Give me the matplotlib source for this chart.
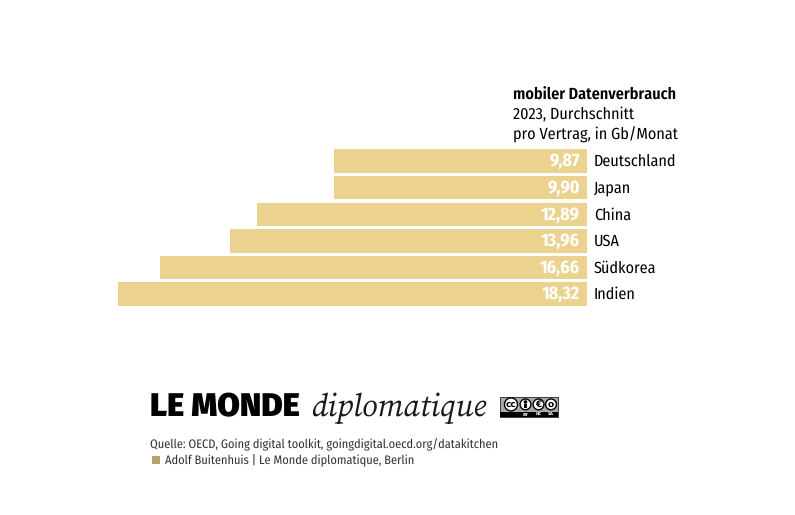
import matplotlib
matplotlib.use('Agg')
import matplotlib.pyplot as plt
from matplotlib import font_manager as fm
from matplotlib.patches import Rectangle, Circle
import numpy as np

countries = ['Deutschland', 'Japan', 'China', 'USA', 'Südkorea', 'Indien']
values = [9.87, 9.90, 12.89, 13.96, 16.66, 18.32]
value_labels = ['9,87', '9,90', '12,89', '13,96', '16,66', '18,32']

W, H = 795, 515
names = {f.name for f in fm.fontManager.ttflist}
narrow = [n for n in ['Fira Sans Condensed', 'Roboto'] if n in names][0]
heavy = [n for n in ['Fira Sans', 'Roboto'] if n in names][0]
serif = [n for n in ['Source Serif 4', 'Gelasio', 'Liberation Serif'] if n in names][0]

plt.rcParams['text.hinting'] = 'no_hinting'
plt.rcParams['text.hinting_factor'] = 1

fig = plt.figure(figsize=(W / 100, H / 100), dpi=100, facecolor='white')

# axes covers exactly the bar area, x runs right to left
ax = fig.add_axes([118 / W, 1 - 307.45 / H, (587 - 118) / W, (307.45 - 147.85) / H])
y = np.arange(len(countries))
ax.barh(y, values, height=0.883, color='#ebd38f', linewidth=0)
ax.set_xlim(18.32, 0)
ax.set_ylim(len(countries) - 0.5, -0.5)
ax.axis('off')

for i in y:
    ax.annotate(value_labels[i], (0, i), xytext=(-7, -5), textcoords='offset pixels',
                ha='right', va='baseline', color='white', fontsize=13,
                fontweight='bold', family=narrow)
    ax.annotate(countries[i], (0, i), xytext=(7, -5), textcoords='offset pixels',
                ha='left', va='baseline', color='black', fontsize=11.6, family=narrow)


def px_text(x, y, s, **kw):
    return fig.text(x / W, 1 - y / H, s, va='baseline', **kw)


px_text(513, 100, 'mobiler Datenverbrauch', fontsize=11.6, fontweight='semibold', family=narrow)
px_text(513, 119.3, '2023, Durchschnitt', fontsize=11.6, family=narrow)
px_text(513, 138.3, 'pro Vertrag, in Gb/Monat', fontsize=11.6, family=narrow)

# masthead
px_text(150.5, 416.7, 'LE MONDE', fontsize=23.6, fontweight='black', family=heavy, color='black')
px_text(311, 416.7, 'diplomatique', fontsize=22.8, style='italic', family=serif, color='#1a1a1a')

# source
px_text(150, 448.3, 'Quelle: OECD, Going digital toolkit, goingdigital.oecd.org/datakitchen',
        fontsize=8.9, family=narrow, color='#333333')
px_text(165, 464.3, 'Adolf Buitenhuis | Le Monde diplomatique, Berlin',
        fontsize=8.9, family=narrow, color='#333333')
fig.add_artist(Rectangle((151.5 / W, 1 - 464.3 / H), 8 / W, 8 / H, transform=fig.transFigure,
                         color='#b8a06e', linewidth=0))

# cc badge, pixel coordinates
ov = fig.add_axes([0, 0, 1, 1], facecolor='none')
ov.set_xlim(0, W)
ov.set_ylim(H, 0)
ov.axis('off')
ov.add_patch(Rectangle((500, 396.7), 58, 20.6, facecolor='#aaaaaa', edgecolor='black', linewidth=0.5))
ov.add_patch(Rectangle((500, 411.5), 58, 5.8, facecolor='black', linewidth=0))
for cx, r in zip([511, 525.5, 538.5, 551], [6.5, 5.4, 5.4, 5.4]):
    ov.add_patch(Circle((cx, 404.4), r, facecolor='white', edgecolor='black', linewidth=1.0))
ov.text(511, 404.4, 'cc', fontsize=6.5, fontweight='bold', ha='center', va='center', color='black')
ov.add_patch(Circle((525.5, 402), 1.1, color='black'))
ov.add_patch(Rectangle((524.4, 403.6), 2.2, 4.2, color='black', linewidth=0))
ov.text(538.5, 404.4, '€', fontsize=6.5, fontweight='bold', ha='center', va='center', color='black')
ov.text(551, 404.4, 'o', fontsize=6.5, fontweight='bold', ha='center', va='center', color='black')
for cx, s in zip([525.5, 538.5, 551], ['BY', 'NC', 'SA']):
    ov.text(cx, 414.4, s, fontsize=3.2, fontweight='bold', ha='center', va='center', color='white')

fig.savefig('out.png', dpi=100, facecolor='white')
